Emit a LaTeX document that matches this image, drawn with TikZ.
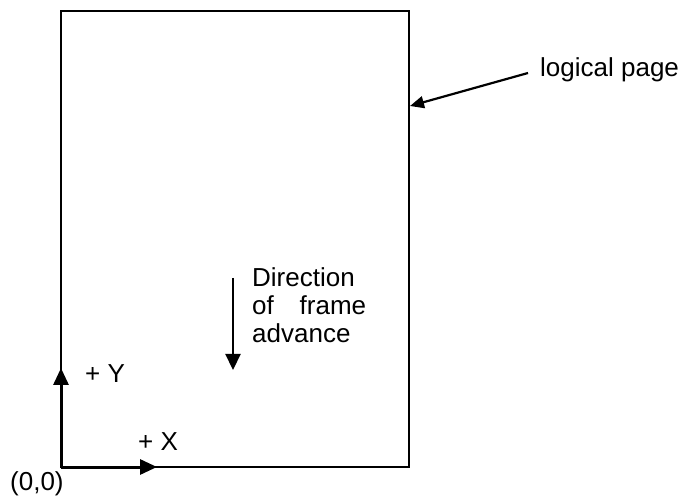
\documentclass[tikz,border=0pt]{standalone}
\usepackage{fontspec}
\setmainfont{Liberation Sans}
\usetikzlibrary{arrows.meta}
\begin{document}
\begin{tikzpicture}[x=1pt,y=-1pt,
  lbl/.style={inner sep=0pt, font=\fontsize{26}{28}\selectfont},
  pagebox/.style={draw, line width=2pt, inner sep=0pt, minimum width=348pt, minimum height=456pt},
  axis/.style={line width=3pt, -{Triangle[length=17pt,width=15pt]}},
  pointer/.style={line width=2.2pt, -{Triangle[length=16pt,width=15pt]}},
  callout/.style={line width=2.2pt, -{Triangle[length=14pt,width=12pt]}}]
\useasboundingbox (0,0) rectangle (681,497);
\node[pagebox] (page) at (235,239) {};
\coordinate (origin) at (61,467);
\coordinate (ytip) at (61,368);
\coordinate (xtip) at (157,467);
\coordinate (hit) at (410,106);
\coordinate (dstart) at (233,278);
\coordinate (dend) at (233,370);
\node[lbl, anchor=base west] (lp) at (540,77) {logical page};
\coordinate (lpstart) at (528,73);
\draw[callout] (lpstart) -- (hit);
\draw[axis] (origin) -- (ytip);
\draw[axis] (origin) -- (xtip);
\draw[pointer] (dstart) -- (dend);
\node[lbl, anchor=base west] (dir1) at (252,287) {Direction};
\node[lbl, anchor=base west] (dir2) at (252,315) {\makebox[114pt][s]{of frame}};
\node[lbl, anchor=base west] (dir3) at (252,343) {advance};
\node[lbl, anchor=base west] (ylab) at (85,383) {+ Y};
\node[lbl, anchor=base west] (xlab) at (138,450) {+ X};
\node[lbl, anchor=base west] (olab) at (10,490) {(0,0)};
\end{tikzpicture}
\end{document}
